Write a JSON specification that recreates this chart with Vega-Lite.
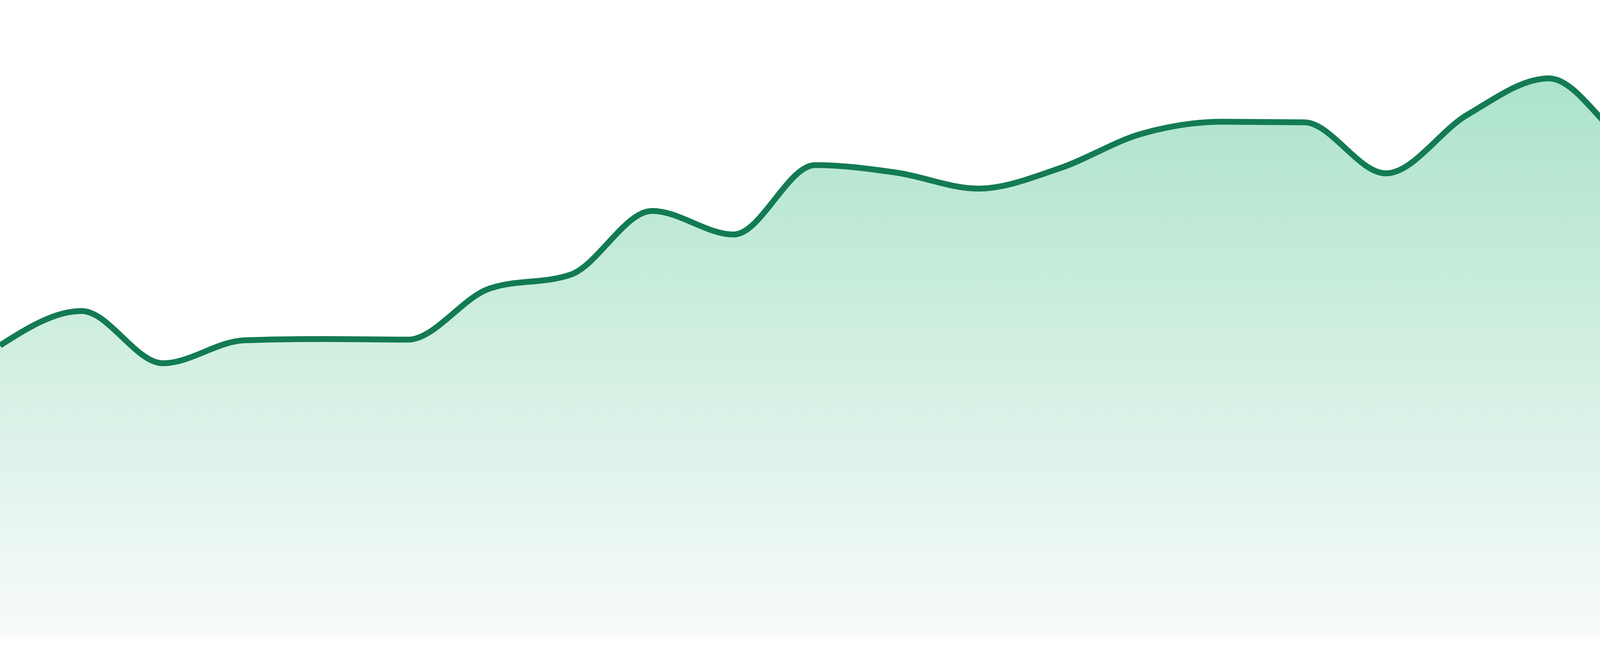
{
  "$schema": "https://vega.github.io/schema/vega-lite/v6.json",
  "width": 4800,
  "height": 1632,
  "autosize": "none",
  "padding": {"top": 0, "left": 0, "right": 0, "bottom": 48},
  "background": "white",
  "config": {"view": {"stroke": null}},
  "data": {
    "values": [
      {"day": 1, "value": 45.8},
      {"day": 2, "value": 51.2},
      {"day": 3, "value": 43.0},
      {"day": 4, "value": 46.6},
      {"day": 5, "value": 46.8},
      {"day": 6, "value": 46.7},
      {"day": 7, "value": 54.7},
      {"day": 8, "value": 56.9},
      {"day": 9, "value": 66.9},
      {"day": 10, "value": 63.2},
      {"day": 11, "value": 74.1},
      {"day": 12, "value": 72.9},
      {"day": 13, "value": 70.4},
      {"day": 14, "value": 73.6},
      {"day": 15, "value": 79.0},
      {"day": 16, "value": 80.9},
      {"day": 17, "value": 80.8},
      {"day": 18, "value": 72.8},
      {"day": 19, "value": 82.0},
      {"day": 20, "value": 87.7},
      {"day": 21, "value": 77.2},
      {"day": 22, "value": 72.8},
      {"day": 23, "value": 86.4},
      {"day": 24, "value": 81.6}
    ]
  },
  "encoding": {
    "x": {"field": "day", "type": "quantitative", "axis": null, "scale": {"domain": [1, 24], "nice": false, "zero": false}},
    "y": {"field": "value", "type": "quantitative", "axis": null, "scale": {"domain": [0, 100], "nice": false}}
  },
  "layer": [
    {
      "mark": {
        "type": "area",
        "interpolate": "monotone",
        "color": {
          "x1": 0, "y1": 0, "x2": 0, "y2": 1,
          "gradient": "linear",
          "stops": [
            {"offset": 0, "color": "#ace3ca"},
            {"offset": 1, "color": "#f8fbfa"}
          ]
        }
      }
    },
    {
      "mark": {"type": "line", "interpolate": "monotone", "color": "#137b53", "strokeWidth": 15}
    }
  ]
}
